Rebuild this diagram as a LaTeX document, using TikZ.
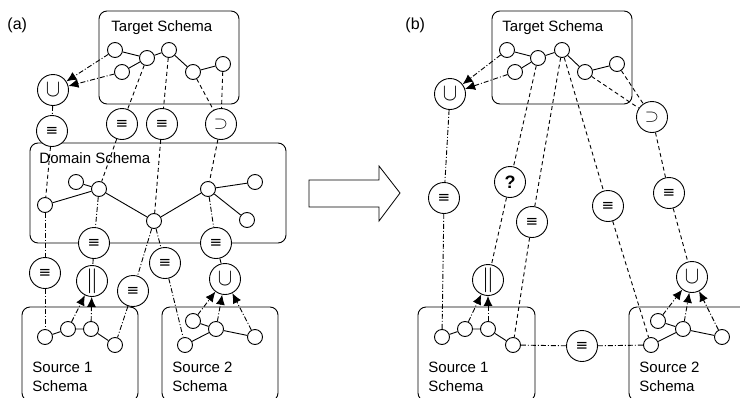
\documentclass[tikz,border=0pt]{standalone}
\usepackage{fontspec}
\setmainfont{Liberation Sans}
\newfontfamily\symfont{DejaVu Sans}
\usepackage{graphicx}
\usetikzlibrary{arrows.meta}
\newcommand{\myEQ}{{\symfont\fontsize{15}{15}\selectfont ≡}}
\newcommand{\myUN}{\scalebox{1.25}[1.4]{$\cup$}}
\newcommand{\mySUP}{\scalebox{1.05}[1.0]{$\supset$}}
\newcommand{\myPAR}{{\fontsize{23}{23}\selectfont$\|$}}
\begin{document}
\begin{tikzpicture}[x=1pt,y=-1pt,line width=0.9pt,
  sn/.style={circle,draw,minimum size=15pt,inner sep=0pt,fill=white},
  op/.style={circle,draw,minimum size=31pt,inner sep=0pt,fill=white,font=\fontsize{16}{16}\selectfont},
  schemabox/.style={draw,rounded corners=8pt,line width=0.9pt},
  lbl/.style={font=\fontsize{15}{19}\selectfont,anchor=base west,inner sep=0pt},
  dsh/.style={dash pattern=on 4pt off 3pt},
  dd/.style={dash pattern=on 5pt off 2pt on 1pt off 2pt},
  arr/.style={dd,-{Latex[length=10pt,width=9pt]}}]
\useasboundingbox (0,0) rectangle (740,397);
\clip (0,0) rectangle (740,397);
% ---------- panel labels ----------
\node[lbl,font=\fontsize{16}{19}\selectfont] (la) at (7,29) {(a)};
\node[lbl,font=\fontsize{16}{19}\selectfont] (lb) at (405,29) {(b)};
% ---------- big arrow ----------
\draw[line width=0.8pt] (309,180) -- (379,180) -- (379,166) -- (400,193) -- (379,221) -- (379,207) -- (309,207) -- cycle;
% ---------- boxes ----------
\draw[schemabox] (99,11) rectangle (239,104);
\draw[schemabox] (30,143) rectangle (286,243);
\draw[schemabox] (22,307) rectangle (138,401);
\draw[schemabox] (162,307) rectangle (278,401);
\draw[schemabox] (492,11) rectangle (632,104);
\draw[schemabox] (418,307) rectangle (535,401);
\draw[schemabox] (629,307) rectangle (750,401);
% ---------- box labels ----------
\node[lbl] (atl) at (111,31) {Target Schema};
\node[lbl] (adl) at (39,163) {Domain Schema};
\node[lbl] (as1l) at (32,372) {Source 1};
\node[lbl] (as1m) at (32,391) {Schema};
\node[lbl] (as2l) at (172,372) {Source 2};
\node[lbl] (as2m) at (172,391) {Schema};
\node[lbl] (btl) at (502,31) {Target Schema};
\node[lbl] (bs1l) at (428,372) {Source 1};
\node[lbl] (bs1m) at (428,391) {Schema};
\node[lbl] (bs2l) at (639,372) {Source 2};
\node[lbl] (bs2m) at (639,391) {Schema};
% ================= panel (a) =================
\node[sn] (aT1) at (115,50) {};
\node[sn] (aT2) at (147,58) {};
\node[sn] (aT3) at (169,50) {};
\node[sn] (aT4) at (122,72) {};
\node[sn] (aT5) at (193,72) {};
\node[sn] (aT6) at (223,64) {};
\draw (aT1) -- (aT2) -- (aT3) -- (aT5) -- (aT6);
\draw (aT4) -- (aT2);
\node[sn] (aD1) at (45,205) {};
\node[sn] (aD2) at (99,189) {};
\node[sn] (aD3) at (76,182) {};
\node[sn] (aD4) at (154,221) {};
\node[sn] (aD5) at (208,189) {};
\node[sn] (aD6) at (255,182) {};
\node[sn] (aD7) at (247,220) {};
\draw (aD1) -- (aD2) -- (aD4) -- (aD5) -- (aD6);
\draw (aD3) -- (aD2);
\draw (aD5) -- (aD7);
\node[sn] (aS1a) at (45,337) {};
\node[sn] (aS1b) at (68,329) {};
\node[sn] (aS1c) at (91,329) {};
\node[sn] (aS1d) at (115,345) {};
\draw (aS1a) -- (aS1b) -- (aS1c) -- (aS1d);
\node[sn] (aS2a) at (185,345) {};
\node[sn] (aS2b) at (193,321) {};
\node[sn] (aS2c) at (216,329) {};
\node[sn] (aS2d) at (255,337) {};
\draw (aS2a) -- (aS2c) -- (aS2d);
\draw (aS2b) -- (aS2c);
% operators (a)
\node[op] (aU1) at (53,90) {\myUN};
\node[op] (aE1) at (52,131) {\myEQ};
\node[op] (aE2) at (122,124) {\myEQ};
\node[op] (aE3) at (162,124) {\myEQ};
\node[op] (aSup) at (221,124) {\mySUP};
\node[op] (aE4) at (94,243) {\myEQ};
\node[op] (aE5) at (216,243) {\myEQ};
\node[op] (aE6) at (45,273) {\myEQ};
\node[op] (aPar) at (92,281) {\myPAR};
\node[op] (aE7) at (165,263) {\myEQ};
\node[op] (aE8) at (133,291) {\myEQ};
\node[op] (aU2) at (225,279) {\myUN};
% connectors (a)
\draw[arr] (aT1) -- (aU1);
\draw[arr] (aT4) -- (aU1);
\draw[dd] (aU1) -- (aE1);
\draw[dsh] (aT2) -- (aE2);
\draw[dsh] (aT3) -- (aE3);
\draw[dsh] (aT5) -- (aSup);
\draw[dsh] (aT6) -- (aSup);
\draw[dsh] (aE1) -- (aD1);
\draw[dsh] (aE2) -- (aD2);
\draw[dsh] (aE3) -- (aD4);
\draw[dsh] (aSup) -- (aD5);
\draw[dd] (aD2) -- (aE4);
\draw[dd] (aD5) -- (aE5);
\draw[dd] (aD1) -- (aE6);
\draw[dd] (aD4) -- (aE7);
\draw[dd] (aD4) -- (aE8);
\draw[dd] (aE4) -- (aPar);
\draw[dd] (aE5) -- (aU2);
\draw[dd] (aE6) -- (aS1a);
\draw[dd] (aE8) -- (aS1d);
\draw[dd] (aE7) -- (aS2a);
\draw[arr] (aS1b) -- (aPar);
\draw[arr] (aS1c) -- (aPar);
\draw[arr] (aS2b) -- (aU2);
\draw[arr] (aS2c) -- (aU2);
\draw[arr] (aS2d) -- (aU2);
% ================= panel (b) =================
\node[sn] (bT1) at (507,50) {};
\node[sn] (bT2) at (538,58) {};
\node[sn] (bT3) at (562,50) {};
\node[sn] (bT4) at (515,72) {};
\node[sn] (bT5) at (585,72) {};
\node[sn] (bT6) at (617,64) {};
\draw (bT1) -- (bT2) -- (bT3) -- (bT5) -- (bT6);
\draw (bT4) -- (bT2);
\node[sn] (bS1a) at (442,337) {};
\node[sn] (bS1b) at (465,329) {};
\node[sn] (bS1c) at (488,329) {};
\node[sn] (bS1d) at (513,345) {};
\draw (bS1a) -- (bS1b) -- (bS1c) -- (bS1d);
\node[sn] (bS2a) at (651,345) {};
\node[sn] (bS2b) at (658,321) {};
\node[sn] (bS2c) at (683,329) {};
\node[sn] (bS2d) at (722,337) {};
\draw (bS2a) -- (bS2c) -- (bS2d);
\draw (bS2b) -- (bS2c);
% operators (b)
\node[op] (bU1) at (450,94) {\myUN};
\node[op] (bSup) at (652,117) {\mySUP};
\node[op] (bE1) at (444,198) {\myEQ};
\node[op] (bQ) at (510,182) {\fontsize{18}{18}\selectfont\textbf{?}};
\node[op] (bE2) at (532,222) {\myEQ};
\node[op] (bE3) at (608,206) {\myEQ};
\node[op] (bE4) at (669,193) {\myEQ};
\node[op] (bPar) at (488,280) {\myPAR};
\node[op] (bU2) at (692,277) {\myUN};
\node[op] (bE5) at (582,346) {\myEQ};
% connectors (b)
\draw[arr] (bT1) -- (bU1);
\draw[arr] (bT4) -- (bU1);
\draw[dd] (bU1) -- (bE1);
\draw[dd] (bE1) -- (bS1a);
\draw[dsh] (bT2) -- (bQ);
\draw[dsh] (bQ) -- (bPar);
\draw[dsh] (bT3) -- (bE2);
\draw[dsh] (bE2) -- (bS1d);
\draw[dsh] (bT3) -- (bE3);
\draw[dsh] (bE3) -- (bS2a);
\draw[dsh] (bT5) -- (bSup);
\draw[dsh] (bT6) -- (bSup);
\draw[dsh] (bSup) -- (bE4);
\draw[dsh] (bE4) -- (bU2);
\draw[dd] (bS1d) -- (bE5);
\draw[dd] (bE5) -- (bS2a);
\draw[arr] (bS1b) -- (bPar);
\draw[arr] (bS1c) -- (bPar);
\draw[arr] (bS2b) -- (bU2);
\draw[arr] (bS2c) -- (bU2);
\draw[arr] (bS2d) -- (bU2);
\end{tikzpicture}
\end{document}
